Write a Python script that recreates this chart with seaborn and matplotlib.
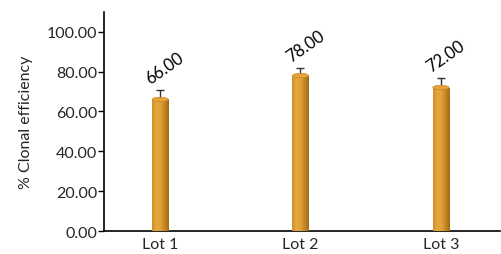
import numpy as np
import pandas as pd
import matplotlib
matplotlib.use("Agg")
import matplotlib.pyplot as plt
import seaborn as sns
from matplotlib.patches import Ellipse

sns.set_theme(style="ticks")
plt.rcParams["font.family"] = ["Lato", "DejaVu Sans"]

# data
lots = ["Lot 1", "Lot 2", "Lot 3"]
efficiency = [66.0, 78.0, 72.0]
errors = [5.0, 4.0, 5.0]
yticks = [0, 20, 40, 60, 80, 100]

df = pd.DataFrame({"Lot": lots, "Efficiency": efficiency})

fig = plt.figure(figsize=(5.01, 2.55), dpi=100)
ax = fig.add_axes([0.2076, 0.09, 0.79, 0.86])

bar_w = 0.115
sns.barplot(data=df, x="Lot", y="Efficiency", color="#D99A32", width=bar_w,
            ax=ax, edgecolor="none", zorder=2)

# cylinder shading: horizontal gradient clipped to each bar
grad = np.linspace(0, 1, 64).reshape(1, -1)
cmap = matplotlib.colors.LinearSegmentedColormap.from_list(
    "cyl", ["#CE8E28", "#E8A840", "#E0A03A", "#C68622", "#A06A18"])
for p in ax.patches:
    x0, w, h = p.get_x(), p.get_width(), p.get_height()
    im = ax.imshow(grad, cmap=cmap, aspect="auto", extent=[x0, x0 + w, 0, h],
                   zorder=3)
    im.set_clip_path(p)
    ax.add_patch(Ellipse((x0 + w / 2, h), w, 2.2, facecolor="#E6A43A",
                         edgecolor="#C98A22", lw=0.5, zorder=4))

xs = np.arange(len(lots))
ax.errorbar(xs, efficiency, yerr=[np.zeros(3), errors], fmt="none",
            ecolor="#333333", elinewidth=1, capsize=3, capthick=1, zorder=1)

for x, v, e in zip(xs, efficiency, errors):
    ax.annotate(f"{v:.2f}", (x, v + e), xytext=(-8, 3), textcoords="offset pixels",
                ha="left", va="bottom", rotation=35, fontsize=12,
                rotation_mode="anchor", color="black")

ax.set_xlim(-0.4, 2.42)
ax.set_ylim(0, 110)
ax.set_yticks(yticks)
ax.set_yticklabels([f"{t:.2f}" for t in yticks])
ax.set_xlabel("")
ax.set_ylabel("% Clonal efficiency", fontsize=11.5, labelpad=10)
ax.tick_params(axis="both", labelsize=11.5, length=4, width=1, color="black",
               pad=1)
ax.tick_params(axis="x", length=0, pad=4)
for s in ["top", "right"]:
    ax.spines[s].set_visible(False)
for s in ["left", "bottom"]:
    ax.spines[s].set_color("black")
    ax.spines[s].set_linewidth(1.2)

fig.savefig("out.png", dpi=100)
